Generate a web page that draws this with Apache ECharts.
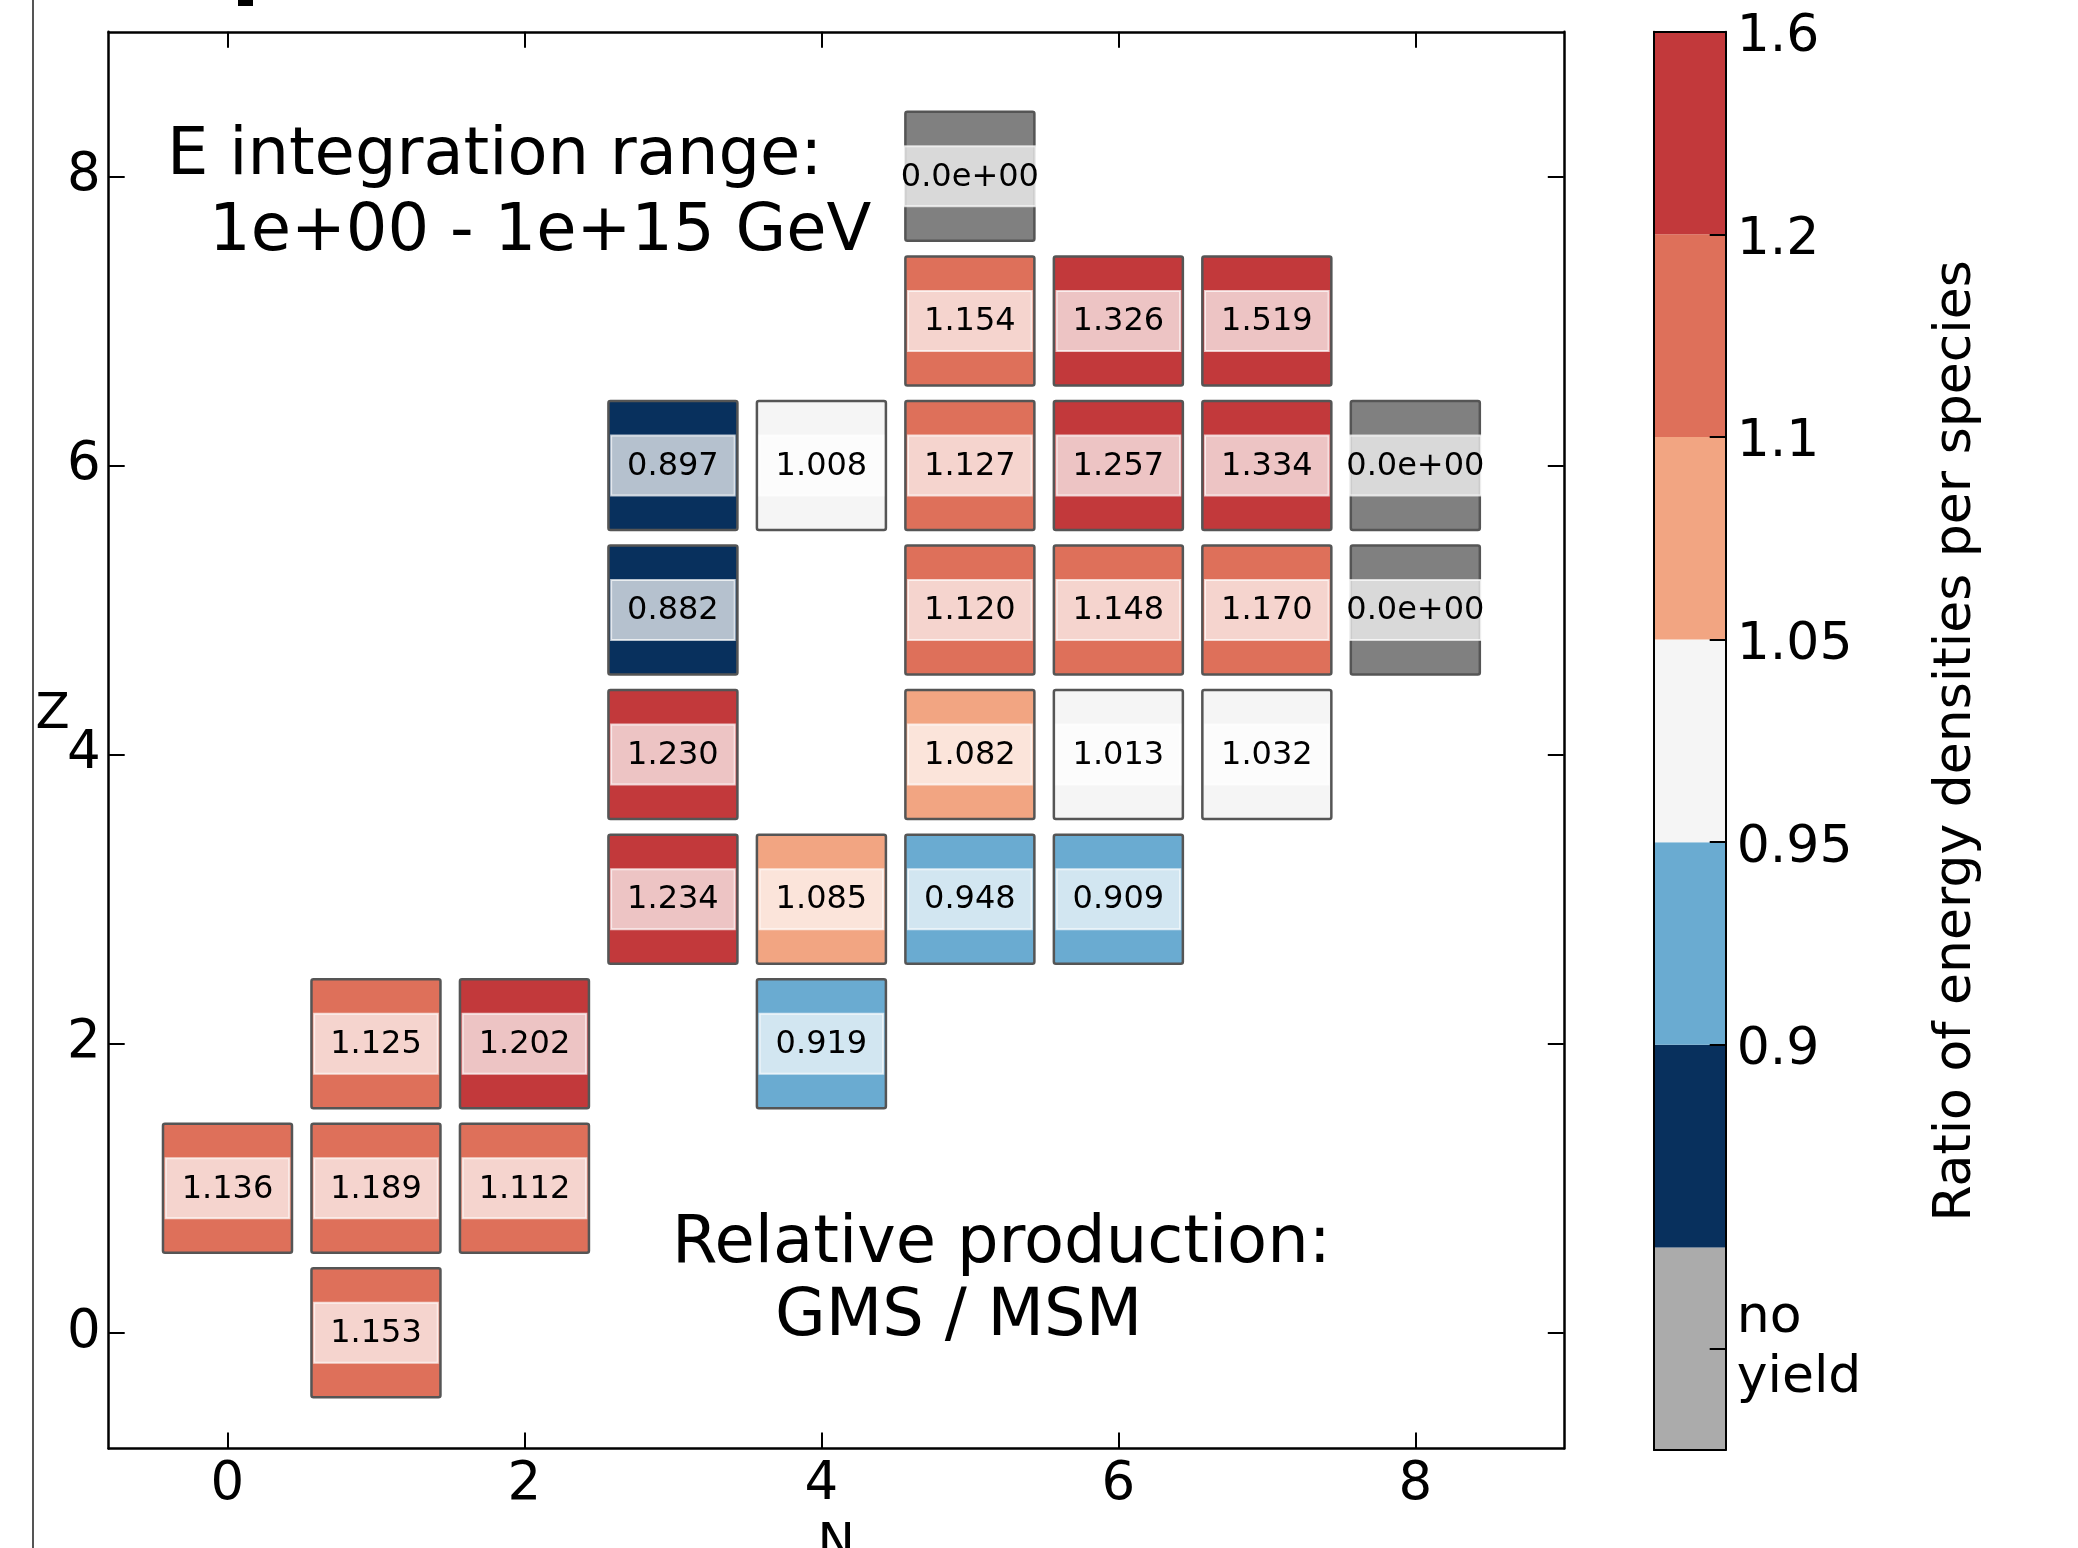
<!DOCTYPE html>
<html><head><meta charset="utf-8">
<script src="https://cdn.jsdelivr.net/npm/echarts@6/dist/echarts.min.js"></script>
<style>html,body{margin:0;padding:0;background:#fff}#c{width:2078px;height:1548px}</style>
</head><body><div id="c"></div>
<script>
const FONT = '"DejaVu Sans", sans-serif';
// ---- data ----
const cellN = [5, 5, 6, 7, 3, 4, 5, 6, 7, 8, 3, 5, 6, 7, 8, 3, 5, 6, 7, 3, 4, 5, 6, 1, 2, 4, 0, 1, 2, 1];
const cellZ = [8, 7, 7, 7, 6, 6, 6, 6, 6, 6, 5, 5, 5, 5, 5, 4, 4, 4, 4, 3, 3, 3, 3, 2, 2, 2, 1, 1, 1, 0];
const ratio = [0, 1.154, 1.326, 1.519, 0.897, 1.008, 1.127, 1.257, 1.334, 0, 0.882, 1.120, 1.148, 1.170, 0,
               1.230, 1.082, 1.013, 1.032, 1.234, 1.085, 0.948, 0.909, 1.125, 1.202, 0.919, 1.136, 1.189, 1.112, 1.153];
const axisTickValues = [0, 2, 4, 6, 8];
const cbBounds = [0.9, 0.95, 1.05, 1.1, 1.2, 1.6];
const cbTickLabels = ['no\nyield', '0.9', '0.95', '1.05', '1.1', '1.2', '1.6'];
const cbColors = ['#ababab', '#08305d', '#6aabd1', '#f5f5f5', '#f2a582', '#de705a', '#c2393b'];
const noYieldCellColor = '#808080';
const cbBands = [0, 1, 2, 3, 4, 5, 6];

function colorFor(v) {
  if (v === 0) return noYieldCellColor;
  for (let i = 0; i < cbBounds.length - 1; i++) if (v < cbBounds[i]) return cbColors[i + 1];
  return cbColors[cbColors.length - 1];
}
function labelFor(v) { return v === 0 ? '0.0e+00' : v.toFixed(3); }

const mctx = document.createElement('canvas').getContext('2d');
const CELL_FONT = 32;
mctx.font = CELL_FONT + 'px "DejaVu Sans"';

const chart = echarts.init(document.getElementById('c'), null, {renderer: 'canvas'});
const tickStyle = {color: '#000', width: 2};
const lineStyle = {color: '#000', width: 2.5};
const ANN = 65.5;

const option = {
  backgroundColor: '#fff',
  animation: false,
  grid: [
    {left: 108.7, top: 31.8, width: 1455.1, height: 1416.7, outerBoundsMode: 'none', containLabel: false},
    {left: 1654, top: 31.7, width: 71.7, height: 1418.3, outerBoundsMode: 'none', containLabel: false}
  ],
  xAxis: [
    {gridIndex: 0, type: 'value', min: -0.8, max: 9, position: 'bottom',
     axisLine: {show: true, onZero: false, lineStyle: lineStyle},
     axisTick: {show: true, inside: true, length: 16, lineStyle: tickStyle, customValues: axisTickValues},
     axisLabel: {customValues: axisTickValues, fontSize: 53, fontFamily: FONT, color: '#000', margin: 10},
     splitLine: {show: false},
     name: 'N', nameLocation: 'middle', nameGap: 72, nameMoveOverlap: false,
     nameTextStyle: {fontSize: 50, fontFamily: FONT, color: '#000', verticalAlign: 'top'}},
    {gridIndex: 0, type: 'value', min: -0.8, max: 9, position: 'top',
     axisLine: {show: true, onZero: false, lineStyle: lineStyle},
     axisTick: {show: true, inside: true, length: 16, lineStyle: tickStyle, customValues: axisTickValues},
     axisLabel: {show: false}, splitLine: {show: false}},
    {gridIndex: 1, type: 'value', min: 0, max: 1, position: 'bottom', z: 5,
     axisLine: {show: true, onZero: false, lineStyle: {color: '#000', width: 2}},
     axisTick: {show: false}, axisLabel: {show: false}, splitLine: {show: false}},
    {gridIndex: 1, type: 'value', min: 0, max: 1, position: 'top', z: 5,
     axisLine: {show: true, onZero: false, lineStyle: {color: '#000', width: 2}},
     axisTick: {show: false}, axisLabel: {show: false}, splitLine: {show: false}}
  ],
  yAxis: [
    {gridIndex: 0, type: 'value', min: -0.8, max: 9, position: 'left',
     axisLine: {show: true, onZero: false, lineStyle: lineStyle},
     axisTick: {show: true, inside: true, length: 16, lineStyle: tickStyle, customValues: axisTickValues},
     axisLabel: {customValues: axisTickValues, fontSize: 53, fontFamily: FONT, color: '#000', margin: 8, padding: [5, 0, 0, 0]},
     splitLine: {show: false},
     name: 'Z', nameLocation: 'middle', nameRotate: 0, nameGap: 39, nameMoveOverlap: false,
     nameTextStyle: {fontSize: 50, fontFamily: FONT, color: '#000', verticalAlign: 'bottom'}},
    {gridIndex: 0, type: 'value', min: -0.8, max: 9, position: 'right',
     axisLine: {show: true, onZero: false, lineStyle: lineStyle},
     axisTick: {show: true, inside: true, length: 16, lineStyle: tickStyle, customValues: axisTickValues},
     axisLabel: {show: false}, splitLine: {show: false}},
    {gridIndex: 1, type: 'value', min: 0, max: 7, position: 'left', z: 5,
     axisLine: {show: true, onZero: false, lineStyle: {color: '#000', width: 2}},
     axisTick: {show: false}, axisLabel: {show: false}, splitLine: {show: false}},
    {gridIndex: 1, type: 'value', min: 0, max: 7, position: 'right', z: 5,
     axisLine: {show: true, onZero: false, lineStyle: {color: '#000', width: 2}},
     axisTick: {show: true, inside: true, length: 16, lineStyle: tickStyle, customValues: [0.5, 2, 3, 4, 5, 6]},
     axisLabel: {customValues: [0.5, 2, 3, 4, 5, 6, 7], fontSize: 52, lineHeight: 60, fontFamily: FONT, color: '#000', margin: 11,
       formatter: function (v) { return v < 1 ? cbTickLabels[0] : '{s|' + cbTickLabels[Math.round(v) - 1] + '}'; },
       rich: {s: {fontSize: 52, fontFamily: FONT, color: '#000', padding: [12, 0, 0, 0]}}},
     splitLine: {show: false},
     name: 'Ratio of energy densities per species', nameLocation: 'middle', nameRotate: 90, nameGap: 205, nameMoveOverlap: false,
     nameTextStyle: {fontSize: 52, fontFamily: FONT, color: '#000'}}
  ],
  series: [
    {
      type: 'custom', xAxisIndex: 0, yAxisIndex: 0, clip: false, z: 3,
      data: cellN.map((n, i) => [n, cellZ[i], ratio[i]]),
      encode: {x: 0, y: 1},
      renderItem: function (params, api) {
        const c = api.coord([api.value(0), api.value(1)]);
        const v = api.value(2);
        const S = 129, h = S / 2;
        const lab = labelFor(v);
        const tw = mctx.measureText(lab).width;
        const bw = Math.min(tw + 32, S + 2.5), bh = 60;
        return {type: 'group', children: [
          {type: 'rect', shape: {x: c[0] - h, y: c[1] - h, width: S, height: S, r: 2},
           style: {fill: colorFor(v), stroke: '#555', lineWidth: 2.5}},
          {type: 'rect', shape: {x: c[0] - bw / 2, y: c[1] - bh / 2, width: bw, height: bh},
           style: {fill: 'rgba(255,255,255,0.7)', stroke: 'rgba(255,255,255,0.7)', lineWidth: 2}},
          {type: 'text', x: c[0], y: c[1] + 1,
           style: {text: lab, fontSize: CELL_FONT, fontFamily: FONT, fill: '#000',
                   align: 'center', verticalAlign: 'middle', textAlign: 'center', textVerticalAlign: 'middle'}}
        ]};
      }
    },
    {
      type: 'custom', xAxisIndex: 2, yAxisIndex: 3, clip: false, z: 2,
      data: cbBands.map(b => [b]),
      encode: {y: 0},
      renderItem: function (params, api) {
        const b = api.value(0);
        const p0 = api.coord([0, b]);
        const p1 = api.coord([1, b + 1]);
        return {type: 'rect', shape: {x: p0[0], y: p1[1], width: p1[0] - p0[0], height: p0[1] - p1[1]},
                style: {fill: cbColors[b], stroke: null}};
      }
    }
  ],
  graphic: [
    {type: 'line', shape: {x1: 33, y1: 0, x2: 33, y2: 1548}, style: {stroke: '#555', lineWidth: 2}, silent: true},
    {type: 'rect', shape: {x: 238, y: 0, width: 15, height: 6}, style: {fill: '#000'}, silent: true},
    {type: 'text', x: 167, y: 157, style: {text: 'E integration range:', fontSize: ANN, fontFamily: FONT, fill: '#000', align: 'left', verticalAlign: 'middle', textAlign: 'left', textVerticalAlign: 'middle'}},
    {type: 'text', x: 209, y: 233, style: {text: '1e+00 - 1e+15 GeV', fontSize: ANN, fontFamily: FONT, fill: '#000', align: 'left', verticalAlign: 'middle', textAlign: 'left', textVerticalAlign: 'middle'}},
    {type: 'text', x: 672, y: 1245, style: {text: 'Relative production:', fontSize: ANN, fontFamily: FONT, fill: '#000', align: 'left', verticalAlign: 'middle', textAlign: 'left', textVerticalAlign: 'middle'}},
    {type: 'text', x: 775, y: 1318, style: {text: 'GMS / MSM', fontSize: ANN, fontFamily: FONT, fill: '#000', align: 'left', verticalAlign: 'middle', textAlign: 'left', textVerticalAlign: 'middle'}}
  ]
};
chart.setOption(option);
</script>
</body></html>
